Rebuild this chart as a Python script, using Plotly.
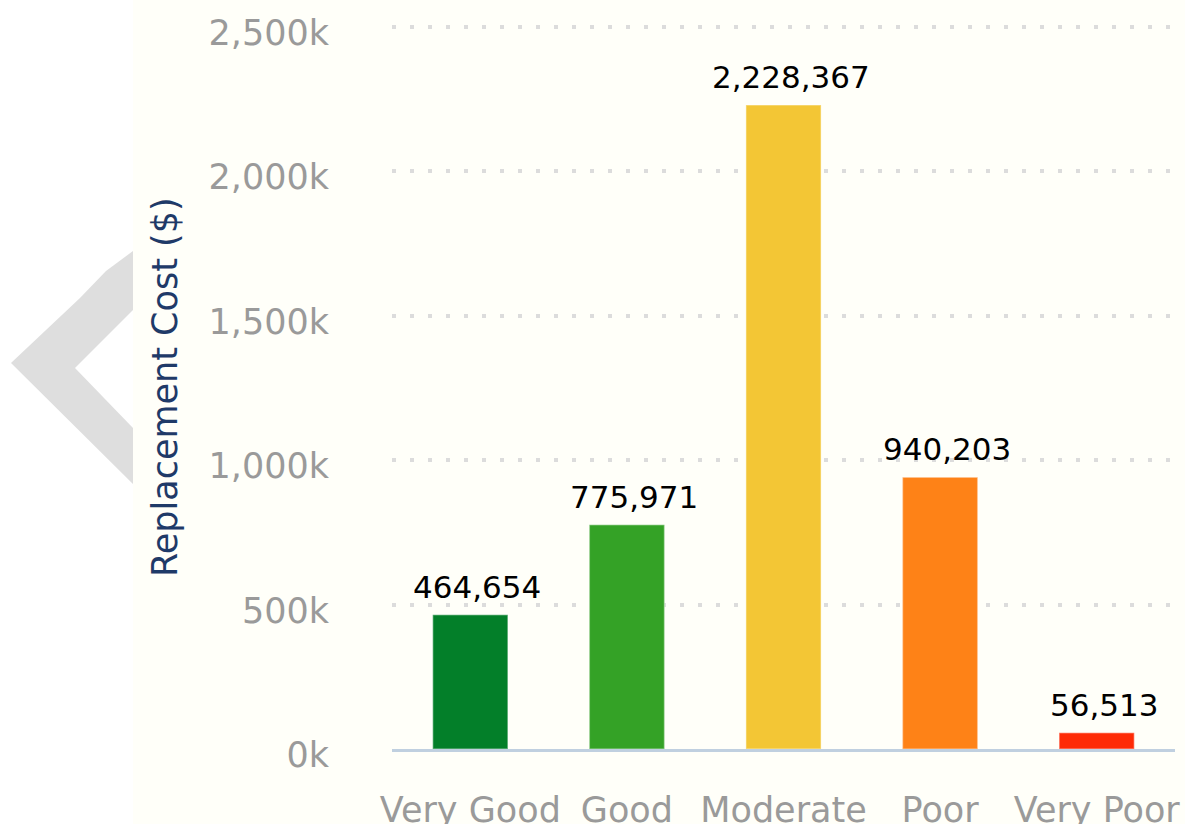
"""Replacement cost by condition - bar chart."""

import plotly.graph_objects as go

CATEGORIES = ["Very Good", "Good", "Moderate", "Poor", "Very Poor"]
COSTS = [464654, 775971, 2228367, 940203, 56513]
BAR_COLORS = ["#037f29", "#34a226", "#f3c635", "#fe8217", "#fe2b06"]
Y_TICKS = [0, 500000, 1000000, 1500000, 2000000, 2500000]
Y_TICK_TEXT = ["0k", "500k", "1,000k", "1,500k", "2,000k", "2,500k"]

W, H = 1185, 824
L, R, T, B = 392, 10, 23, 75
PW, PH = W - L - R, H - T - B
BG = "#fffff9"
FONT = "DejaVu Sans"


def px(x):
    return (x - L) / PW


def py(y):
    return (H - B - y) / PH


fig = go.Figure(go.Bar(
    x=CATEGORIES,
    y=COSTS,
    marker_color=BAR_COLORS,
    marker_line=dict(color="rgba(255,255,255,0.35)", width=1.5),
    width=0.48,
    hoverinfo="x+y",
))

# data labels above the bars
for cat, val in zip(CATEGORIES, COSTS):
    fig.add_annotation(
        x=cat, y=val, text=f"{val:,}", showarrow=False,
        yanchor="bottom", yshift=8, xshift=7,
        font=dict(family=FONT, size=31, color="#000000"),
    )

# y axis title
fig.add_annotation(
    xref="paper", yref="paper", x=px(165), y=py(387), xanchor="center", yanchor="middle",
    text="Replacement Cost ($)", textangle=-90, showarrow=False,
    font=dict(family=FONT, size=35, color="#1f3a68"),
)

# white strip on the left, with the grey carousel chevron
fig.add_shape(type="rect", xref="paper", yref="paper", layer="below",
              x0=px(-5), x1=px(133), y0=py(H + 5), y1=py(-5),
              fillcolor="#ffffff", line_width=0)
chev = [(11, 363), (80, 298), (106, 271), (133, 251), (133, 310), (75, 368),
        (133, 428), (133, 484)]
path = "M " + " L ".join(f"{px(a):.5f},{py(b):.5f}" for a, b in chev) + " Z"
fig.add_shape(type="path", xref="paper", yref="paper", layer="below", path=path,
              fillcolor="#dedede", line_width=0)

fig.update_xaxes(
    showgrid=False, showline=True, linecolor="#c0d0e0", linewidth=3,
    ticks="", ticklabelstandoff=28, automargin=False,
    tickfont=dict(family=FONT, size=35, color="#9a9a9a"),
)
fig.update_yaxes(
    range=[0, 2512500], tickvals=Y_TICKS, ticktext=Y_TICK_TEXT,
    showgrid=True, gridcolor="#dcdcdc", gridwidth=4, griddash="4px,14px",
    zeroline=False, showline=False, ticks="", ticklabelstandoff=62, ticklabelshift=6,
    automargin=False,
    tickfont=dict(family=FONT, size=35, color="#9a9a9a"),
)
fig.update_layout(
    width=W, height=H,
    margin=dict(l=L, r=R, t=T, b=B, autoexpand=False),
    paper_bgcolor=BG, plot_bgcolor=BG,
    showlegend=False,
    bargap=0.52,
)

# page has default 8px body margin; drop it so the figure sits at the window origin
fig.write_html(
    "out.html",
    config={"displayModeBar": False},
    post_script="document.body.style.margin='0';document.body.style.overflow='hidden';",
)
